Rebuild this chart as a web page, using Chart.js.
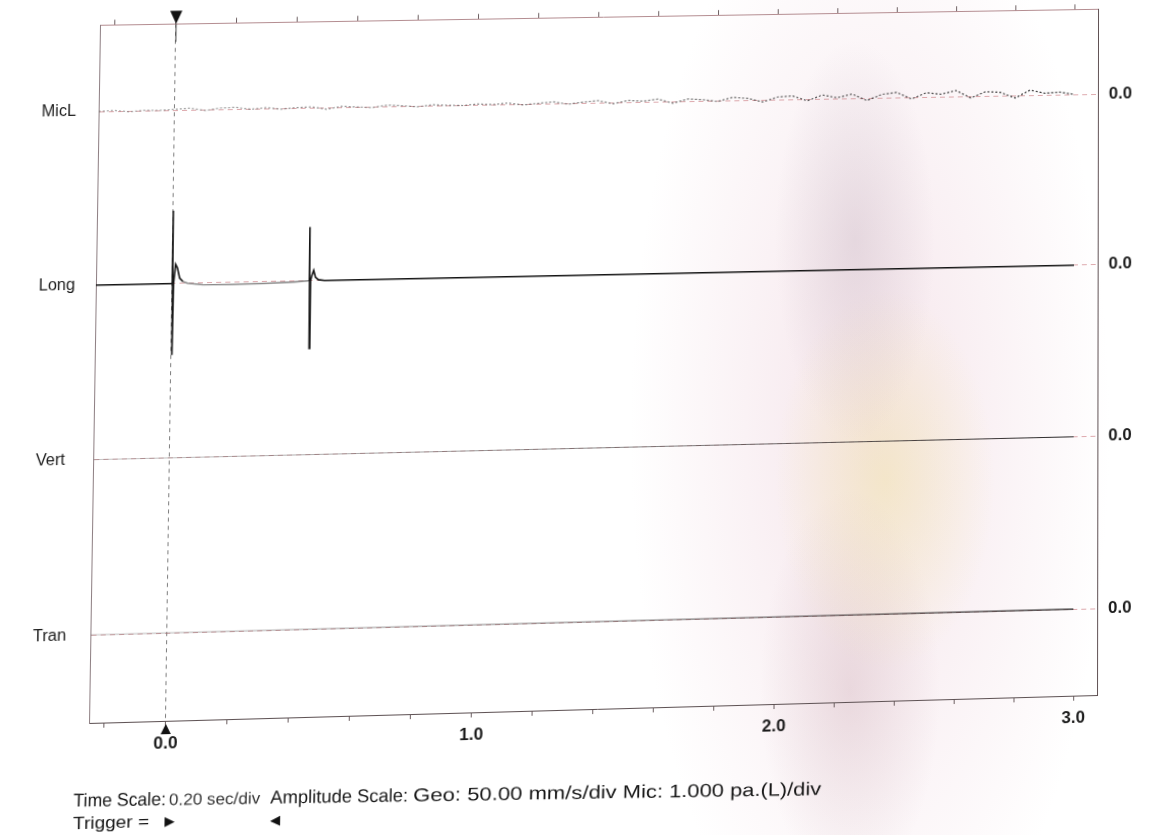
<!DOCTYPE html>
<html><head><meta charset="utf-8">
<script src="https://cdn.jsdelivr.net/npm/chart.js@4.4.1/dist/chart.umd.min.js"></script>
<style>
html,body{margin:0;padding:0;width:1150px;height:835px;overflow:hidden;background:#fff;}
#bg{position:absolute;left:0;top:0;width:1150px;height:835px;background:
 radial-gradient(ellipse 80px 200px at 855px 240px, rgba(185,165,180,0.30), rgba(185,165,180,0) 100%),
 radial-gradient(ellipse 110px 190px at 885px 480px, rgba(240,228,150,0.40), rgba(240,228,150,0) 100%),
 radial-gradient(ellipse 90px 200px at 850px 690px, rgba(200,165,175,0.32), rgba(200,165,175,0) 100%),
 radial-gradient(ellipse 240px 580px at 870px 430px, rgba(238,210,220,0.60), rgba(238,210,220,0) 100%);}
#wrap{position:absolute;left:0;top:0;width:1150px;height:835px;transform-origin:0 0;}
canvas{display:block;}
</style></head><body>
<div id="bg"></div>
<div id="wrap"><canvas id="c" width="1150" height="835"></canvas></div>
<script>
// ---------- data ----------
const channelNames = ['MicL', 'Long', 'Vert', 'Tran'];
const zeroLabel = '0.0';
const timeMin = -0.25;
const timeMax = 3.08;
const timeStep = 0.2;
const triggerTime = 0;
const geoRange = 50;   // mm/s either side of a channel baseline
const micRange = 1.0;  // pa either side

const micTime = [-0.25,-0.2,-0.15,-0.1,-0.05,0.0,
  0.05,0.1,0.15,0.2,0.25,0.3,0.35,0.4,0.45,0.5,
  0.55,0.6,0.65,0.7,0.75,0.8,0.85,0.9,0.95,1.0,
  1.05,1.1,1.15,1.2,1.25,1.3,1.35,1.4,1.45,1.5,
  1.55,1.6,1.65,1.7,1.75,1.8,1.85,1.9,1.95,2.0,
  2.05,2.1,2.15,2.2,2.25,2.3,2.35,2.4,2.45,2.5,
  2.55,2.6,2.65,2.7,2.75,2.8,2.85,2.9,2.95,3.0];
const micVals = [0,0.01,-0.01,0.005,0,0.01,
  0.02,-0.01,0.015,0.02,-0.005,0.01,-0.01,0.005,0.01,-0.02,
  0.01,0.0,-0.01,0.015,0.005,-0.01,0.01,0.0,-0.005,0.01,
  0.0,0.015,-0.01,0.005,0.02,-0.01,0.01,0.025,-0.015,0.02,
  0.01,0.03,-0.02,0.025,0.015,-0.01,0.035,0.02,-0.025,0.03,
  0.04,-0.02,0.045,0.01,0.05,-0.03,0.04,0.06,-0.02,0.05,
  0.03,0.07,-0.02,0.05,0.04,-0.03,0.06,0.02,0.03,0.0];

const longTime = [-0.25,-0.002,0.0,0.002,0.004,0.010,0.016,0.024,0.035,0.05,0.1,0.2,0.3,0.4,
  0.448,0.450,0.452,0.454,0.458,0.464,0.470,0.480,0.5,1.0,2.0,3.0];
const longVals = [0,0,42,-41,0,11,9,3,1,0,-1,-1.2,-1,-0.5,
  0,31,-39,0,3,6,2,0.5,0,0,0,0];

const vertTime = [-0.25, 3.0];
const vertVals = [0, 0];
const tranTime = [-0.25, 3.0];
const tranVals = [0, 0];

const footTime = ['Time Scale:', '0.20 sec/div'];
const footAmp = ['Amplitude Scale:', 'Geo: 50.00 mm/s/div Mic: 1.000 pa.(L)/div'];
const trigText = ['Trigger =', '\u25B6', '\u25C0'];

// page corners of the (slightly skewed) printed frame: TL, TR, BR, BL
const paperCorners = [[100,25],[1098,9],[1097,695],[89,723]];

// ---------- chart ----------
const FONT = "'Liberation Sans', Arial, Helvetica, sans-serif";
const NARROW = "'Liberation Sans Narrow', 'Liberation Sans', Arial, sans-serif";

function pts(t, v) { return t.map((x, i) => ({x: x, y: v[i]})); }

function fadeStroke(a0, a1) {
  return (ctx) => {
    const ch = ctx.chart, area = ch.chartArea;
    if (!area) return '#444';
    const g = ch.ctx.createLinearGradient(area.left, 0, area.right, 0);
    g.addColorStop(0, 'rgba(95,95,95,' + a0 + ')');
    g.addColorStop(0.55, 'rgba(70,70,70,' + ((a0 + a1) / 2) + ')');
    g.addColorStop(1, 'rgba(25,25,25,' + a1 + ')');
    return g;
  };
}

function leftAxis(name, range) {
  return {
    type: 'linear', position: 'left', stack: 'chL', stackWeight: 1, min: -range, max: range,
    afterBuildTicks: s => { s.ticks = [{value: 0}]; },
    afterFit: s => { s.width = 56; },
    ticks: { callback: () => name, crossAlign: 'far', padding: 0, color: '#1c1c1c',
             font: {family: FONT, size: 16} },
    grid: { drawTicks: false, color: 'rgba(205,125,130,0.65)', lineWidth: 1 },
    border: { display: true, color: '#8f8084', width: 1, dash: [5, 4] }
  };
}
function rightAxis(range) {
  return {
    type: 'linear', position: 'right', stack: 'chR', stackWeight: 1, min: -range, max: range,
    afterBuildTicks: s => { s.ticks = [{value: 0}]; },
    afterFit: s => { s.width = 58; },
    ticks: { callback: () => zeroLabel, padding: 11, color: '#1c1c1c',
             font: {family: FONT, size: 17, weight: 'bold'} },
    grid: { drawOnChartArea: false, drawTicks: false },
    border: { display: true, color: '#5f5053', width: 1 }
  };
}

function fitText(c, str, x, y, w, font, color) {
  c.font = font; c.fillStyle = color;
  const m = c.measureText(str).width;
  c.save(); c.translate(x, y); c.scale(w / m, 1); c.fillText(str, 0, 0); c.restore();
}

const annotPlugin = {
  id: 'annot',
  afterDraw(chart) {
    const c = chart.ctx, a = chart.chartArea;
    const x0 = chart.scales.x.getPixelForValue(triggerTime);
    c.save();
    c.fillStyle = '#111';
    c.beginPath(); c.moveTo(x0 - 6, a.top - 13); c.lineTo(x0 + 6, a.top - 13); c.lineTo(x0, a.top); c.closePath(); c.fill();
    c.beginPath(); c.moveTo(x0 - 5, a.bottom + 13); c.lineTo(x0 + 5, a.bottom + 13); c.lineTo(x0, a.bottom + 3); c.closePath(); c.fill();
    c.strokeStyle = '#444'; c.lineWidth = 1;
    c.beginPath(); c.moveTo(x0, a.top); c.lineTo(x0, a.top + 18); c.stroke();
    // footer
    c.textBaseline = 'alphabetic';
    c.translate(80, 789); c.rotate(0.0136);
    fitText(c, footTime[0], 0, 0, 90, '18px ' + NARROW, '#161616');
    fitText(c, footTime[1], 93, 0, 89, '16px ' + NARROW, '#333');
    fitText(c, footAmp[0], 192, 0, 135, '18px ' + NARROW, '#161616');
    fitText(c, footAmp[1], 332, 0, 404, '18px ' + NARROW, '#161616');
    c.rotate(-0.0136);
    fitText(c, trigText[0], 0, 22, 74, '17px ' + NARROW, '#161616');
    c.font = '13px DejaVu Sans, sans-serif'; c.fillStyle = '#111';
    c.fillText(trigText[1], 89, 21);
    c.fillText(trigText[2], 192, 23);
    c.restore();
  }
};

const chart = new Chart(document.getElementById('c'), {
  type: 'line',
  data: {
    datasets: [
      { label: 'MicL', data: pts(micTime, micVals), xAxisID: 'x', yAxisID: 'yMic',
        borderColor: fadeStroke(0.55, 0.95), borderWidth: 1.2, borderDash: [2, 2], pointRadius: 0, tension: 0 },
      { label: 'Vert', data: pts(vertTime, vertVals), xAxisID: 'x', yAxisID: 'yVert',
        borderColor: fadeStroke(0.35, 0.95), borderWidth: 1.1, pointRadius: 0, tension: 0 },
      { label: 'Tran', data: pts(tranTime, tranVals), xAxisID: 'x', yAxisID: 'yTran',
        borderColor: fadeStroke(0.3, 1.0), borderWidth: 1.3, pointRadius: 0, tension: 0 },
      { label: 'Long', data: pts(longTime, longVals), xAxisID: 'x', yAxisID: 'yLong',
        borderColor: '#141414', borderWidth: 1.6, pointRadius: 0, tension: 0,
        segment: { borderColor: ctx => (ctx.p0.parsed.x >= 0.03 && ctx.p1.parsed.x <= 0.449) ? '#8c8c8c' : undefined } }
    ]
  },
  options: {
    responsive: false, animation: false, devicePixelRatio: 1,
    layout: { padding: { left: 38, right: 0, top: 0, bottom: 0 } },
    plugins: { legend: { display: false }, tooltip: { enabled: false } },
    scales: {
      x: {
        type: 'linear', position: 'bottom', min: timeMin, max: timeMax,
        afterFit: s => { s.height = 127; },
        ticks: { stepSize: timeStep, includeBounds: false, autoSkip: false, maxRotation: 0, minRotation: 0,
                 padding: 7, color: '#1c1c1c', font: {family: FONT, size: 17, weight: 'bold'},
                 callback: v => (Math.abs(v - Math.round(v)) < 1e-6 && v >= 0) ? v.toFixed(1) : '' },
        grid: { color: ctx => (ctx.tick && Math.abs(ctx.tick.value - triggerTime) < 1e-6) ? 'rgba(105,105,105,0.85)' : 'rgba(0,0,0,0)',
                tickColor: '#6d6062', tickLength: 5, lineWidth: 1 },
        border: { display: true, color: '#5e5254', width: 1, dash: [4, 4] }
      },
      x2: {
        type: 'linear', position: 'top', min: timeMin, max: timeMax,
        afterFit: s => { s.height = 17; },
        ticks: { stepSize: timeStep, includeBounds: false, autoSkip: false, display: false, maxRotation: 0 },
        grid: { drawOnChartArea: false, tickColor: '#6d6062', tickLength: 5 },
        border: { display: true, color: '#b48d91', width: 1 }
      },
      yTran: leftAxis(channelNames[3], geoRange),
      yVert: leftAxis(channelNames[2], geoRange),
      yLong: leftAxis(channelNames[1], geoRange),
      yMic: leftAxis(channelNames[0], micRange),
      rMic: rightAxis(micRange),
      rLong: rightAxis(geoRange),
      rVert: rightAxis(geoRange),
      rTran: rightAxis(geoRange)
    }
  },
  plugins: [annotPlugin]
});

// ---------- map the drawn frame onto the printed (skewed) page ----------
function solveHomography(src, dst) {
  const A = [], b = [];
  for (let i = 0; i < 4; i++) {
    const x = src[i][0], y = src[i][1], u = dst[i][0], v = dst[i][1];
    A.push([x, y, 1, 0, 0, 0, -x * u, -y * u]); b.push(u);
    A.push([0, 0, 0, x, y, 1, -x * v, -y * v]); b.push(v);
  }
  const n = 8;
  for (let i = 0; i < n; i++) {
    let p = i;
    for (let r = i + 1; r < n; r++) if (Math.abs(A[r][i]) > Math.abs(A[p][i])) p = r;
    let t = A[i]; A[i] = A[p]; A[p] = t; t = b[i]; b[i] = b[p]; b[p] = t;
    for (let r = i + 1; r < n; r++) {
      const f = A[r][i] / A[i][i];
      for (let k = i; k < n; k++) A[r][k] -= f * A[i][k];
      b[r] -= f * b[i];
    }
  }
  const h = new Array(n);
  for (let i = n - 1; i >= 0; i--) {
    let s = b[i];
    for (let k = i + 1; k < n; k++) s -= A[i][k] * h[k];
    h[i] = s / A[i][i];
  }
  return h;
}
const ar = chart.chartArea;
const h = solveHomography([[ar.left, ar.top], [ar.right, ar.top], [ar.right, ar.bottom], [ar.left, ar.bottom]], paperCorners);
document.getElementById('wrap').style.transform =
  'matrix3d(' + [h[0], h[3], 0, h[6], h[1], h[4], 0, h[7], 0, 0, 1, 0, h[2], h[5], 0, 1].join(',') + ')';
</script>
</body></html>
